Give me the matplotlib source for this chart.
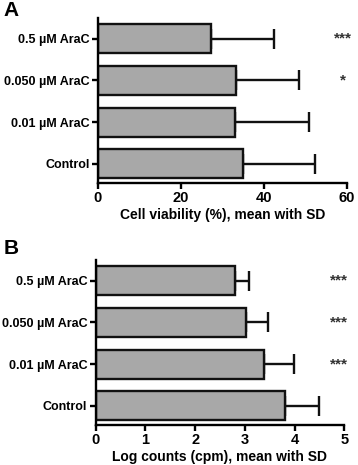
import numpy as np
import matplotlib.pyplot as plt

plt.rcParams['font.family'] = ['Liberation Sans', 'DejaVu Sans']
plt.rcParams['font.weight'] = 'bold'

# data (bottom to top)
groups = ['Control', '0.01 µM AraC', '0.050 µM AraC', '0.5 µM AraC']
viability_mean = [34.8, 33.0, 33.2, 27.2]
viability_sd = [17.5, 17.8, 15.2, 15.3]
viability_sig = ['', '', '*', '***']

logcpm_mean = [3.81, 3.39, 3.02, 2.80]
logcpm_sd = [0.67, 0.59, 0.45, 0.29]
logcpm_sig = ['', '***', '***', '***']

fig = plt.figure(figsize=(3.58, 4.65), dpi=100)
axA = fig.add_axes([0.2737, 0.6065, 0.696, 0.355])
axB = fig.add_axes([0.267, 0.086, 0.695, 0.355])


def draw(ax, mean, sd, sig, xmax, step, xlabel, star_x):
    y = np.arange(len(groups))
    ax.barh(y, mean, height=0.7, color='#a8a8a8', edgecolor='#111111',
            linewidth=1.7, zorder=2)
    ax.errorbar(mean, y, xerr=[np.zeros(len(sd)), sd], fmt='none',
                ecolor='#111111', elinewidth=1.7, capsize=7, capthick=1.7,
                zorder=1)
    for yi, s in zip(y, sig):
        if s:
            ax.text(star_x, yi, s, ha='center', va='center', fontsize=11,
                    color='#333333', transform=ax.get_yaxis_transform())
    ax.set_yticks(y)
    ax.set_yticklabels(groups, fontsize=9, fontweight='bold')
    ax.set_xlim(0, xmax)
    ax.set_xticks(np.arange(0, xmax + step / 2, step))
    ax.tick_params(axis='x', labelsize=10.5)
    ax.set_ylim(-0.46, 3.5)
    ax.set_xlabel(xlabel, fontsize=10, fontweight='bold', labelpad=2)
    for side in ['top', 'right']:
        ax.spines[side].set_visible(False)
    for side in ['left', 'bottom']:
        ax.spines[side].set_linewidth(1.7)
    ax.tick_params(width=1.7, length=4, direction='out', pad=2)


draw(axA, viability_mean, viability_sd, viability_sig, 60, 20,
     'Cell viability (%), mean with SD', 0.985)
draw(axB, logcpm_mean, logcpm_sd, logcpm_sig, 5, 1,
     'Log counts (cpm), mean with SD', 0.98)

fig.text(0.01, 0.997, 'A', fontsize=15, fontweight='bold', va='top')
fig.text(0.01, 0.487, 'B', fontsize=15, fontweight='bold', va='top')

fig.savefig('out.png', dpi=100)
